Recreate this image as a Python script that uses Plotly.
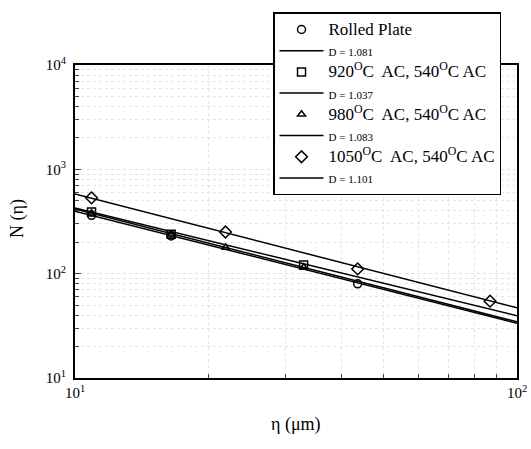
import plotly.graph_objects as go

# ---- data ----
series_names = ["Rolled Plate",
                "920<sup>O</sup>C  AC, 540<sup>O</sup>C AC",
                "980<sup>O</sup>C  AC, 540<sup>O</sup>C AC",
                "1050<sup>O</sup>C  AC, 540<sup>O</sup>C AC"]
fit_labels = ["D = 1.081", "D = 1.037", "D = 1.083", "D = 1.101"]
symbols = ["circle-open", "square-open", "triangle-up-open", "diamond-open"]

rolled_x = [10.9, 16.5, 43.6]
rolled_y = [362, 230, 80]
s920_x = [10.9, 16.5, 32.9]
s920_y = [389, 239, 121]
s980_x = [10.9, 16.5, 21.9, 32.9]
s980_y = [379, 234, 178, 115]
s1050_x = [10.9, 21.9, 43.6, 86.9]
s1050_y = [533, 251, 111, 54.5]

fit_x = [10, 100]
rolled_fit = [397, 33.5]
s920_fit = [425, 39.5]
s980_fit = [416, 34.5]
s1050_fit = [582, 47]

x_tick_vals = [10, 100]
x_tick_text = ["10<sup>1</sup>", "10<sup>2</sup>"]
y_tick_vals = [10, 100, 1000, 10000]
y_tick_text = ["10<sup>1</sup>", "10<sup>2</sup>", "10<sup>3</sup>", "10<sup>4</sup>"]

xs = [rolled_x, s920_x, s980_x, s1050_x]
ys = [rolled_y, s920_y, s980_y, s1050_y]
fits = [rolled_fit, s920_fit, s980_fit, s1050_fit]
msizes = [8, 8, 7, 9]

FONT = "Liberation Serif"

fig = go.Figure()
for i in range(4):
    fig.add_trace(go.Scatter(
        x=xs[i], y=ys[i], mode="markers",
        name='<span style="font-size:17px">' + series_names[i] + '</span>',
        marker=dict(symbol=symbols[i], size=msizes[i], color="black",
                    line=dict(width=1.5, color="black"))))
    fig.add_trace(go.Scatter(
        x=fit_x, y=fits[i], mode="lines",
        name='<span style="font-size:11px">' + fit_labels[i] + '</span>',
        line=dict(color="black", width=1.5)))

minor_y = [m * 10 ** k for k in range(1, 4) for m in range(2, 10)]
minor_x = [m * 10 for m in range(2, 10)]

fig.update_layout(
    width=531, height=449,
    margin=dict(l=75, r=14, t=63, b=71),
    paper_bgcolor="white", plot_bgcolor="white",
    font=dict(family=FONT, color="black", size=14),
    showlegend=True,
    legend=dict(x=0.448, y=1.168, xanchor="left", yanchor="top",
                bgcolor="white", bordercolor="black", borderwidth=1.5,
                font=dict(family=FONT, size=14, color="black"),
                traceorder="normal", itemwidth=44),
    xaxis=dict(type="log", range=[1, 2], automargin=False,
               tickvals=x_tick_vals, ticktext=x_tick_text,
               ticklabeloverflow="allow",
               ticks="inside", ticklen=6, showline=True, linecolor="black",
               linewidth=2, mirror=True,
               showgrid=True, gridcolor="#e0e0e0", griddash="dot",
               minor=dict(tickvals=minor_x, ticks="inside", ticklen=4,
                          showgrid=True, gridcolor="#e6e6e6", griddash="dot"),
               tickfont=dict(size=15, family=FONT), zeroline=False),
    yaxis=dict(type="log", range=[1, 4], automargin=False,
               tickvals=y_tick_vals, ticktext=y_tick_text,
               ticks="inside", ticklen=6, showline=True, linecolor="black",
               linewidth=2, mirror=True, ticklabelstandoff=4,
               showgrid=True, gridcolor="#e0e0e0", griddash="dot",
               minor=dict(tickvals=minor_y, ticks="inside", ticklen=4,
                          showgrid=True, gridcolor="#e6e6e6", griddash="dot"),
               tickfont=dict(size=15, family=FONT), zeroline=False),
    annotations=[
        dict(text="η (μm)", xref="paper", yref="paper", x=0.5, y=-0.148,
             xanchor="center", yanchor="middle", showarrow=False,
             font=dict(size=18, family=FONT)),
        dict(text="N (η)", xref="paper", yref="paper", x=-0.13, y=0.51,
             xanchor="center", yanchor="middle", showarrow=False, textangle=-90,
             font=dict(size=18, family=FONT)),
    ],
)

fig.write_html("out.html", config={"displayModeBar": False},
               post_script="document.body.style.margin='0';document.body.style.overflow='hidden';")
